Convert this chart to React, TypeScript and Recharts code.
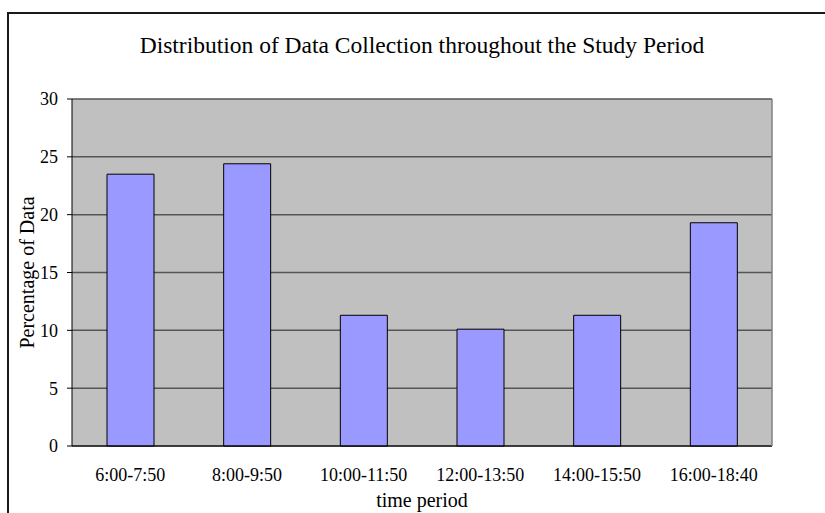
import { BarChart, Bar, XAxis, YAxis, CartesianGrid } from 'recharts';

const periods = ['6:00-7:50', '8:00-9:50', '10:00-11:50', '12:00-13:50', '14:00-15:50', '16:00-18:40'];
const percentages = [23.5, 24.4, 11.3, 10.1, 11.3, 19.3];
const yTicks = [0, 5, 10, 15, 20, 25, 30];
// category boundaries, used for the tick marks between the bars
const edgeTicks = [0, 1, 2, 3, 4, 5, 6];

const FONT = '"Liberation Serif", "Times New Roman", serif';

const data = periods.map((period, i) => ({ period, value: percentages[i] }));

export default function App() {
  return (
    <div
      style={{
        position: 'absolute',
        left: 7,
        top: 12,
        width: 816,
        height: 499,
        borderLeft: '2px solid #1a1a1a',
        borderTop: '2px solid #1a1a1a',
        background: '#fff',
        fontFamily: FONT,
      }}
    >
      <div
        style={{
          position: 'absolute',
          left: 0,
          top: 20,
          width: 816,
          paddingLeft: 10,
          boxSizing: 'border-box',
          textAlign: 'center',
          fontSize: 23.5,
          lineHeight: '23px',
          color: '#000',
        }}
      >
        Distribution of Data Collection throughout the Study Period
      </div>
      <BarChart
        width={816}
        height={499}
        data={data}
        margin={{ top: 85, right: 52, bottom: 0, left: 0 }}
        barCategoryGap="30%"
        style={{ fontFamily: FONT }}
      >
        <CartesianGrid xAxisId="cat" vertical={false} fill="#C0C0C0" stroke="#555" strokeWidth={1.5} />
        <XAxis
          xAxisId="cat"
          dataKey="period"
          axisLine={false}
          tickLine={false}
          height={66}
          tickMargin={15}
          interval={0}
          tick={{ fill: '#000', fontSize: 18, fontFamily: FONT }}
          label={{ value: 'time period', position: 'insideBottom', offset: 6, fill: '#000', fontSize: 20, fontFamily: FONT }}
        />
        <XAxis
          xAxisId={0}
          type="number"
          domain={[0, 6]}
          ticks={edgeTicks}
          tick={false}
          tickSize={5}
          tickLine={{ stroke: '#000' }}
          axisLine={{ stroke: '#000' }}
          height={1}
        />
        <YAxis
          domain={[0, 30]}
          ticks={yTicks}
          width={63}
          tickSize={5}
          tickMargin={9}
          axisLine={{ stroke: '#000' }}
          tickLine={{ stroke: '#000' }}
          tick={{ fill: '#000', fontSize: 18, fontFamily: FONT }}
          label={{
            value: 'Percentage of Data',
            angle: -90,
            position: 'insideLeft',
            offset: 18,
            fill: '#000',
            fontSize: 20,
            fontFamily: FONT,
            style: { textAnchor: 'middle' },
          }}
        />
        <YAxis
          yAxisId="right"
          orientation="right"
          domain={[0, 30]}
          width={1}
          tick={false}
          tickLine={false}
          axisLine={{ stroke: '#808080', strokeWidth: 1.5 }}
        />
        <Bar xAxisId="cat" dataKey="value" fill="#9999FF" stroke="#000" strokeWidth={1} isAnimationActive={false} />
      </BarChart>
    </div>
  );
}
